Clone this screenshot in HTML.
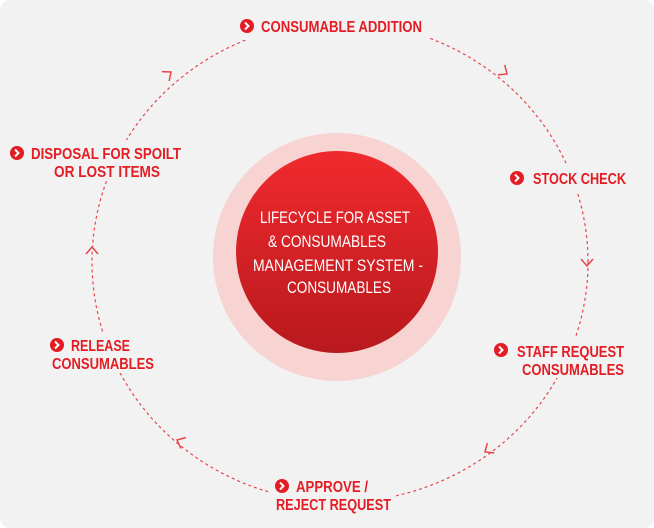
<!DOCTYPE html>
<html><head><style>
html,body{margin:0;padding:0;background:#fff;}
svg{display:block;}
text{font-family:"Liberation Sans Narrow","Liberation Sans",sans-serif;font-weight:bold;fill:#e41c24;font-size:16px;}
.w{fill:#fff;font-weight:normal;font-size:17px;}
</style></head><body>
<svg width="654" height="528" viewBox="0 0 654 528">
<defs>
<linearGradient id="g" x1="0" y1="0" x2="0" y2="1">
<stop offset="0" stop-color="#f02a2e"/><stop offset="1" stop-color="#b8191d"/>
</linearGradient>
</defs>
<rect x="0" y="0" width="654" height="528" rx="10" fill="#f2f2f2"/>
<ellipse cx="340" cy="262" rx="248" ry="240" fill="none" stroke="#e8464b" stroke-width="1.2" stroke-dasharray="3,3"/>
<circle cx="337" cy="257" r="124" fill="#f7d3d1"/>
<circle cx="337" cy="252" r="101" fill="url(#g)"/>
<text class="w" x="335" y="223" text-anchor="middle" textLength="150" lengthAdjust="spacingAndGlyphs">LIFECYCLE FOR ASSET</text>
<text class="w" x="327" y="247" text-anchor="middle" textLength="118" lengthAdjust="spacingAndGlyphs">&amp; CONSUMABLES</text>
<text class="w" x="338" y="271" text-anchor="middle" textLength="170" lengthAdjust="spacingAndGlyphs">MANAGEMENT SYSTEM -</text>
<text class="w" x="339" y="293" text-anchor="middle" textLength="104" lengthAdjust="spacingAndGlyphs">CONSUMABLES</text>
<g fill="none" stroke="#e8464b" stroke-width="1.5">
<path d="M-7,-6 L0,0 L-7,6" transform="translate(507,74) rotate(35)"/>
<path d="M-7,-6 L0,0 L-7,6" transform="translate(587,266) rotate(90)"/>
<path d="M-7,-6 L0,0 L-7,6" transform="translate(485,452) rotate(145)"/>
<path d="M-7,-6 L0,0 L-7,6" transform="translate(177,440) rotate(205)"/>
<path d="M-7,-6 L0,0 L-7,6" transform="translate(92,247) rotate(270)"/>
<path d="M-7,-6 L0,0 L-7,6" transform="translate(171,72) rotate(322)"/>
</g>
<g fill="#f2f2f2">
<rect x="238" y="12" width="192" height="28"/>
<rect x="505" y="166" width="125" height="26"/>
<rect x="490" y="338" width="140" height="40"/>
<rect x="268" y="474" width="128" height="40"/>
<rect x="45" y="333" width="115" height="40"/>
<rect x="8" y="140" width="178" height="40"/>
</g>
<g>
<g transform="translate(247,26)"><circle r="7" fill="#e41c24"/><path d="M-2,-3.5 L1.5,0 L-2,3.5" fill="none" stroke="#fff" stroke-width="2"/></g>
<g transform="translate(517,178)"><circle r="7" fill="#e41c24"/><path d="M-2,-3.5 L1.5,0 L-2,3.5" fill="none" stroke="#fff" stroke-width="2"/></g>
<g transform="translate(501,350)"><circle r="7" fill="#e41c24"/><path d="M-2,-3.5 L1.5,0 L-2,3.5" fill="none" stroke="#fff" stroke-width="2"/></g>
<g transform="translate(282,486)"><circle r="7" fill="#e41c24"/><path d="M-2,-3.5 L1.5,0 L-2,3.5" fill="none" stroke="#fff" stroke-width="2"/></g>
<g transform="translate(57,345)"><circle r="7" fill="#e41c24"/><path d="M-2,-3.5 L1.5,0 L-2,3.5" fill="none" stroke="#fff" stroke-width="2"/></g>
<g transform="translate(17,153)"><circle r="7" fill="#e41c24"/><path d="M-2,-3.5 L1.5,0 L-2,3.5" fill="none" stroke="#fff" stroke-width="2"/></g>
</g>
<text x="261" y="32" textLength="161" lengthAdjust="spacingAndGlyphs">CONSUMABLE ADDITION</text>
<text x="533" y="184" textLength="93" lengthAdjust="spacingAndGlyphs">STOCK CHECK</text>
<text x="517" y="357" textLength="107" lengthAdjust="spacingAndGlyphs">STAFF REQUEST</text>
<text x="522" y="375" textLength="102" lengthAdjust="spacingAndGlyphs">CONSUMABLES</text>
<text x="296" y="492" textLength="72" lengthAdjust="spacingAndGlyphs">APPROVE /</text>
<text x="276" y="510" textLength="115" lengthAdjust="spacingAndGlyphs">REJECT REQUEST</text>
<text x="71" y="351" textLength="59" lengthAdjust="spacingAndGlyphs">RELEASE</text>
<text x="52" y="369" textLength="102" lengthAdjust="spacingAndGlyphs">CONSUMABLES</text>
<text x="31" y="159" textLength="150" lengthAdjust="spacingAndGlyphs">DISPOSAL FOR SPOILT</text>
<text x="54" y="177" textLength="106" lengthAdjust="spacingAndGlyphs">OR LOST ITEMS</text>
</svg>
</body></html>
